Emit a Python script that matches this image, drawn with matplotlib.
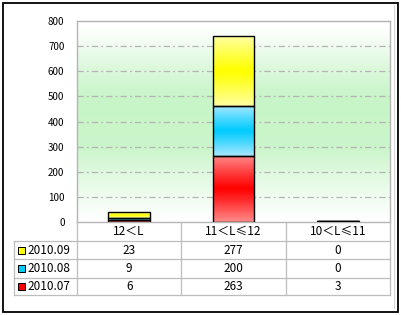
import numpy as np
import matplotlib.pyplot as plt
from matplotlib.colors import LinearSegmentedColormap
from matplotlib.patches import Rectangle
from matplotlib.lines import Line2D
import matplotlib.transforms as mtransforms

plt.rcParams["font.family"] = ["Noto Sans CJK SC", "DejaVu Sans"]

categories = ["12＜L", "11＜L≤12", "10＜L≤11"]
series = ["2010.09", "2010.08", "2010.07"]
v_0907 = [6, 263, 3]
v_0908 = [9, 200, 0]
v_0909 = [23, 277, 0]
yticks = [0, 100, 200, 300, 400, 500, 600, 700, 800]

W, H = 401, 315
fig = plt.figure(figsize=(W / 100, H / 100), dpi=100)


def fx(px):
    return px / W


def fy(py):
    return 1 - py / H


# plot area in pixel coords
L, R, T, B = 77, 390, 21, 222
ax = fig.add_axes([fx(L), fy(B), fx(R - L), (B - T) / H])

x = np.arange(len(categories))
xlim = (-0.5, len(categories) - 0.5)

# green background gradient
yy = np.linspace(0, 800, 200)
prof = np.interp(yy, [0, 60, 200, 300, 500, 650, 760, 800], [0, 0.15, 0.6, 0.95, 1, 0.5, 0.05, 0])
bg_cmap = LinearSegmentedColormap.from_list("bg", ["#ffffff", "#c8f5c8"])
ax.imshow(prof[:, None], cmap=bg_cmap, vmin=0, vmax=1, aspect="auto", origin="lower",
          extent=[xlim[0], xlim[1], 0, 800], zorder=0)

# grid
for t in yticks[1:-1]:
    ax.axhline(t, color="#b4b4b4", lw=0.9, ls=(0, (5, 2.5, 1.5, 2.5)), zorder=1)

colors = {
    "2010.07": ("#ff8a8a", "#ff0000"),
    "2010.08": ("#a8e8ff", "#00ccff"),
    "2010.09": ("#ffffa0", "#ffff00"),
}

g = np.linspace(0, 1, 60)
grad = 1 - np.abs(2 * g - 1) ** 1.1

bottom = np.zeros(len(categories))
for name, vals in [("2010.07", v_0907), ("2010.08", v_0908), ("2010.09", v_0909)]:
    light, full = colors[name]
    cm = LinearSegmentedColormap.from_list(name, [light, full])
    bars = ax.bar(x, vals, width=0.4, bottom=bottom, facecolor="none",
                  edgecolor="black", lw=1.0, zorder=3)
    for rect in bars:
        if rect.get_height() <= 0:
            continue
        x0, y0 = rect.get_x(), rect.get_y()
        im = ax.imshow(grad[:, None], cmap=cm, vmin=0, vmax=1, aspect="auto", origin="lower",
                       extent=[x0, x0 + rect.get_width(), y0, y0 + rect.get_height()], zorder=2)
        im.set_clip_path(rect)
    bottom += np.array(vals)

ax.set_xlim(*xlim)
ax.set_ylim(0, 800)
ax.set_xticks([])
ax.set_yticks(yticks)
ax.tick_params(axis="y", length=0, pad=9, labelsize=7)
for s in ax.spines.values():
    s.set_color("#b4b4b4")
    s.set_linewidth(1.0)

# data table below the plot
rows_y = [222, 241, 259, 278, 295]
line_c = "#bdbdbd"
blend = mtransforms.blended_transform_factory(ax.transData, fig.transFigure)

for yp in rows_y[1:]:
    fig.add_artist(Line2D([fx(14), fx(R)], [fy(yp), fy(yp)], color=line_c, lw=0.9))
fig.add_artist(Line2D([fx(14), fx(14)], [fy(rows_y[1]), fy(rows_y[-1])], color=line_c, lw=0.9))
for xb in [xlim[0] + i for i in range(len(categories) + 1)]:
    fig.add_artist(Line2D([xb, xb], [fy(rows_y[0]), fy(rows_y[-1])], color=line_c, lw=0.9,
                          transform=blend))

for i, c in enumerate(categories):
    fig.text(x[i], fy((rows_y[0] + rows_y[1]) / 2), c, transform=blend, ha="center",
             va="center", fontsize=8.5)

table_vals = {"2010.09": v_0909, "2010.08": v_0908, "2010.07": v_0907}
for r, name in enumerate(series):
    yc = fy((rows_y[r + 1] + rows_y[r + 2]) / 2)
    fig.add_artist(Rectangle((fx(18), yc - 3.5 / H), 7 / W, 7 / H, facecolor=colors[name][1],
                             edgecolor="black", lw=0.7, transform=fig.transFigure))
    fig.text(fx(27), yc, name, ha="left", va="center", fontsize=8.5)
    for i, v in enumerate(table_vals[name]):
        fig.text(x[i], yc, str(v), transform=blend, ha="center", va="center", fontsize=8.5)

# outer frame
fig.add_artist(Line2D([fx(394), fx(394)], [fy(5), fy(308)], color="#d8d8d8", lw=0.8))
fig.add_artist(Rectangle((fx(3), fy(312)), fx(395), (309) / H, facecolor="none",
                         edgecolor="black", lw=1.3, transform=fig.transFigure))

fig.savefig("out.png", dpi=100)
